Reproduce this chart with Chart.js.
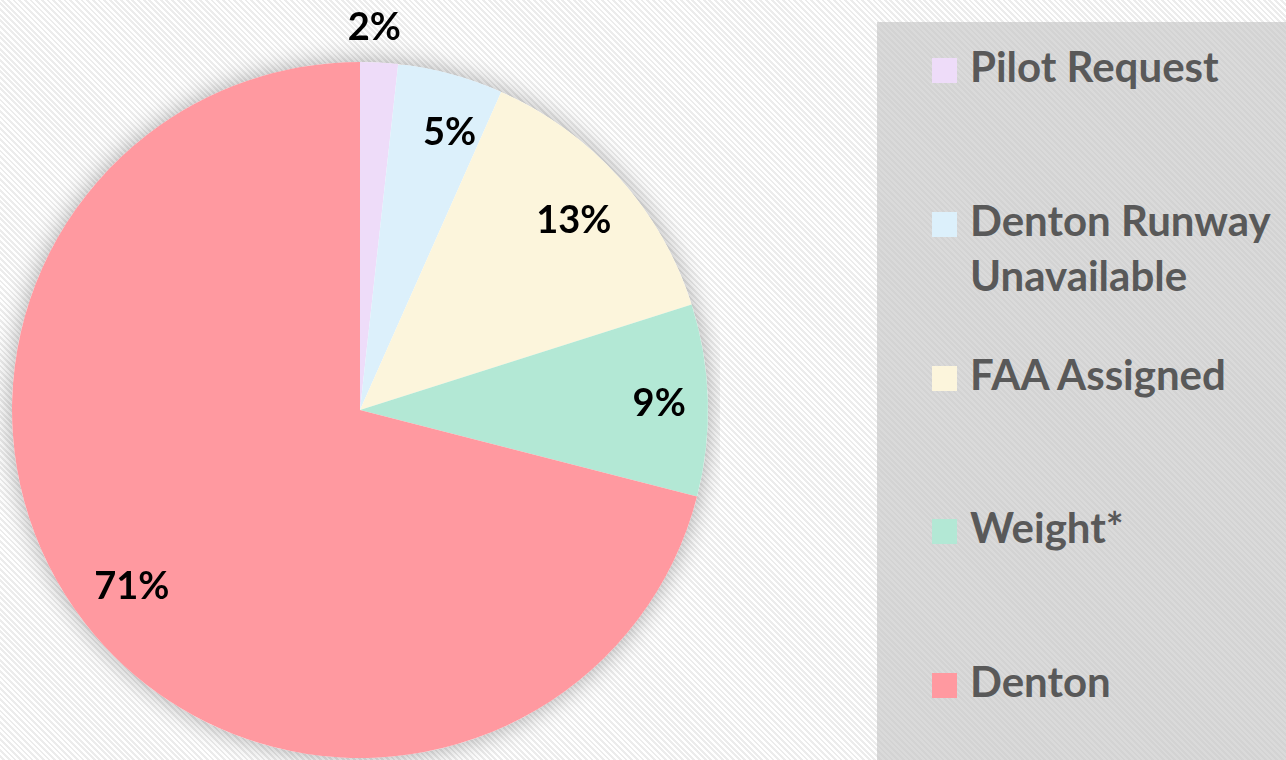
<!DOCTYPE html>
<html>
<head>
<meta charset="utf-8">
<script src="https://cdn.jsdelivr.net/npm/chart.js@4.4.0/dist/chart.umd.min.js"></script>
<style>
  html, body { margin: 0; padding: 0; }
  body {
    width: 1286px; height: 760px; overflow: hidden; position: relative;
    background: repeating-linear-gradient(45deg, #ffffff 0px, #ffffff 2px, #ececec 2px, #ececec 4px);
    font-family: Lato, sans-serif;
  }
  #wrap { position: absolute; left: 0; top: 0; width: 720px; height: 820px; }
  #legend {
    position: absolute; left: 877px; top: 22px; width: 409px; height: 738px;
    background: repeating-linear-gradient(45deg, #dadada 0px, #dadada 2px, #d3d3d3 2px, #d3d3d3 4px);
  }
  .item {
    position: absolute; left: 93px; font-weight: 700; font-size: 42px;
    line-height: 55px; color: #595959; white-space: nowrap;
  }
  .box { position: absolute; left: -38px; top: 19px; width: 25px; height: 25px; }
</style>
</head>
<body>
<div id="wrap"><canvas id="pie"></canvas></div>
<div id="legend"></div>
<script>
// data
const categories = ["Pilot Request", "Denton Runway Unavailable", "FAA Assigned", "Weight*", "Denton"];
const legendLines = [["Pilot Request"], ["Denton Runway", "Unavailable"], ["FAA Assigned"], ["Weight*"], ["Denton"]];
const shares = [1.75, 4.9, 13.45, 8.9, 71.0];
const colors = ["#eedcf9", "#dcf0fb", "#fcf5dc", "#b3e8d5", "#ff99a0"];

// where each % label sits: fraction of the radius, and a nudge off the slice middle (degrees)
const labelRadius = [1.1, 0.836, 0.82, 0.86, 0.83];
const labelNudge = [-1, 2.8, 0.4, 0.4, 0];

const total = shares.reduce((a, b) => a + b, 0);

const shadowDisc = {
  id: "shadowDisc",
  beforeDatasetsDraw(chart) {
    const arc = chart.getDatasetMeta(0).data[0];
    if (!arc) return;
    const ctx = chart.ctx;
    ctx.save();
    ctx.shadowColor = "rgba(0,0,0,0.32)";
    ctx.shadowBlur = 24;
    ctx.fillStyle = "#ffffff";
    ctx.beginPath();
    ctx.arc(arc.x, arc.y, arc.outerRadius, 0, Math.PI * 2);
    ctx.fill();
    ctx.restore();
  },
};

const pctLabels = {
  id: "pctLabels",
  afterDatasetsDraw(chart) {
    const ctx = chart.ctx;
    ctx.save();
    ctx.font = "bold 38px Lato, sans-serif";
    ctx.fillStyle = "#000000";
    ctx.textAlign = "center";
    ctx.textBaseline = "middle";
    chart.getDatasetMeta(0).data.forEach((arc, i) => {
      const mid = (arc.startAngle + arc.endAngle) / 2 + (labelNudge[i] * Math.PI) / 180;
      const r = arc.outerRadius * labelRadius[i];
      const x = arc.x + Math.cos(mid) * r;
      const y = arc.y + Math.sin(mid) * r;
      ctx.fillText(Math.round((shares[i] / total) * 100) + "%", x, y);
    });
    ctx.restore();
  },
};

new Chart(document.getElementById("pie"), {
  type: "pie",
  data: {
    labels: categories,
    datasets: [
      {
        data: shares,
        backgroundColor: colors,
        borderWidth: 0,
        clip: false,
      },
    ],
  },
  options: {
    responsive: true,
    maintainAspectRatio: false,
    animation: false,
    layout: { padding: { left: 12, right: 12, top: 62, bottom: 62 } },
    plugins: {
      legend: { display: false },
      tooltip: { enabled: false },
    },
  },
  plugins: [shadowDisc, pctLabels],
});

// legend on the grey panel
const legend = document.getElementById("legend");
legendLines.forEach((lines, i) => {
  const item = document.createElement("div");
  item.className = "item";
  item.style.top = (82 + i * 153.75 - 22 - 43) + "px";
  item.innerHTML = lines.join("<br>");
  const box = document.createElement("span");
  box.className = "box";
  box.style.background = colors[i];
  item.appendChild(box);
  legend.appendChild(item);
});
</script>
</body>
</html>
